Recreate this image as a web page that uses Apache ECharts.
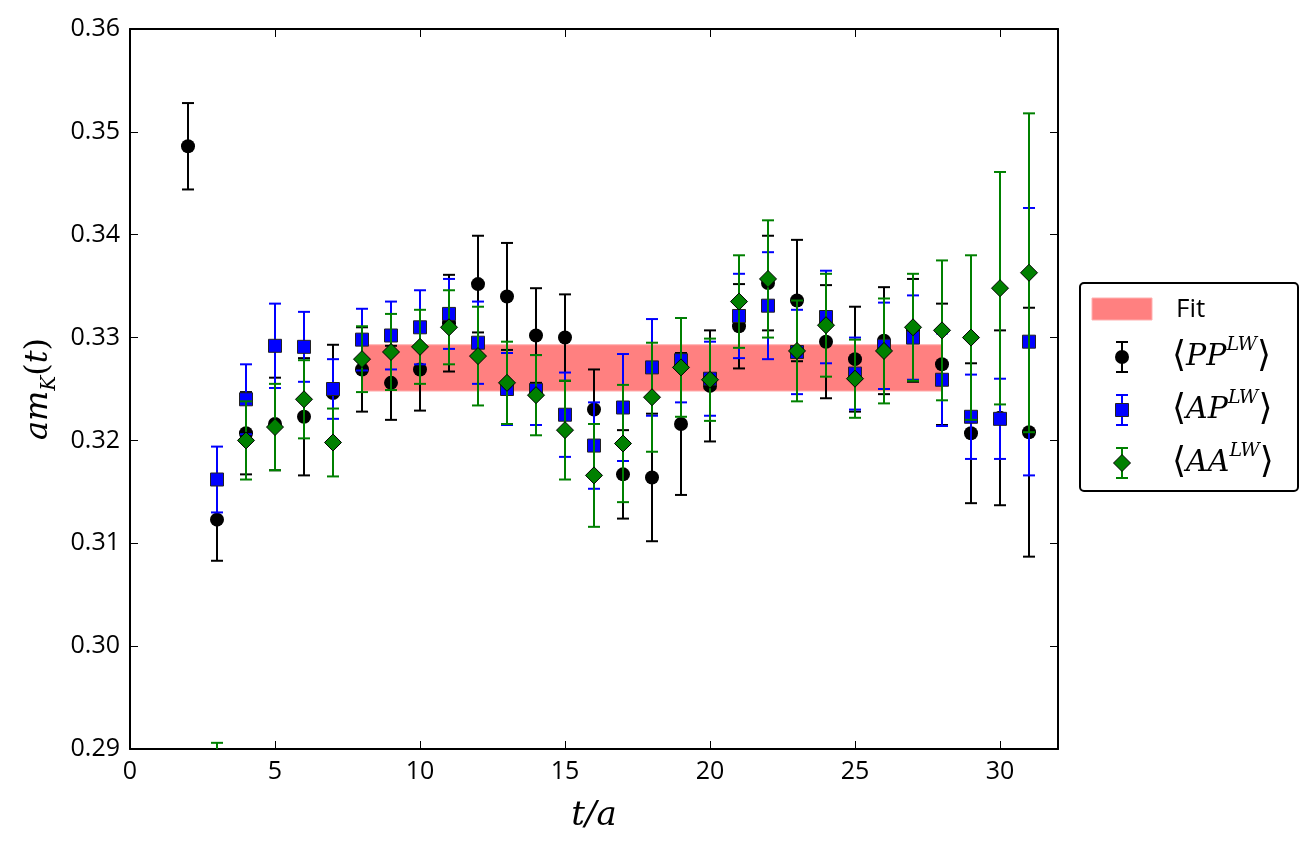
<!DOCTYPE html>
<html lang="en">
<head>
    <meta charset="UTF-8">
    <title>am_K(t)</title>
    <script src="https://cdn.jsdelivr.net/npm/echarts@6/dist/echarts.min.js"></script>
    <style>
        html, body { margin: 0; padding: 0; background: #fff; }
        #chart { width: 1312px; height: 851px; }
    </style>
</head>
<body>
<div id="chart"></div>
<script>
    // time slices
    var ppT = [2,3,4,5,6,7,8,9,10,11,12,13,14,15,16,17,18,19,20,21,22,23,24,25,26,27,28,29,30,31];
    var apT = [3,4,5,6,7,8,9,10,11,12,13,14,15,16,17,18,19,20,21,22,23,24,25,26,27,28,29,30,31];
    var aaT = apT;

    // <PP^LW>
    var ppVal = [0.3486,0.3123,0.3207,0.3216,0.3223,0.3246,0.3269,0.3256,0.3269,0.3314,0.3352,0.3340,0.3302,0.3300,0.3230,
                 0.3167,0.3164,0.3216,0.3253,0.3311,0.3353,0.3336,0.3296,0.3279,0.3297,0.3307,0.3274,0.3207,0.3222,0.3208];
    var ppErr = [0.0042,0.0040,0.0040,0.0045,0.0057,0.0047,0.0041,0.0036,0.0040,0.0047,0.0047,0.0052,0.0046,0.0042,0.0039,
                 0.0043,0.0062,0.0069,0.0054,0.0041,0.0046,0.0059,0.0055,0.0051,0.0052,0.0050,0.0059,0.0068,0.0085,0.0121];

    // <AP^LW>
    var apVal = [0.3162,0.3240,0.3292,0.3291,0.3250,0.3298,0.3302,0.3310,0.3323,0.3295,0.3250,0.3249,0.3225,0.3195,0.3232,
                 0.3271,0.3278,0.3260,0.3321,0.3331,0.3286,0.3320,0.3265,0.3292,0.3300,0.3259,0.3223,0.3221,0.3296];
    var apErr = [0.0032,0.0034,0.0041,0.0034,0.0029,0.0030,0.0033,0.0036,0.0034,0.0040,0.0035,0.0034,0.0041,0.0042,0.0052,
                 0.0047,0.0041,0.0036,0.0041,0.0052,0.0041,0.0045,0.0035,0.0042,0.0041,0.0045,0.0041,0.0039,0.0130];

    // <AA^LW>
    var aaVal = [0.2850,0.3200,0.3213,0.3240,0.3198,0.3279,0.3286,0.3291,0.3310,0.3282,0.3256,0.3244,0.3210,0.3166,0.3197,
                 0.3242,0.3271,0.3259,0.3335,0.3357,0.3287,0.3312,0.3260,0.3287,0.3310,0.3307,0.3300,0.3348,0.3363];
    var aaErr = [0.0056,0.0038,0.0042,0.0038,0.0033,0.0032,0.0037,0.0036,0.0036,0.0048,0.0040,0.0039,0.0048,0.0050,0.0057,
                 0.0053,0.0048,0.0040,0.0045,0.0057,0.0049,0.0050,0.0038,0.0051,0.0052,0.0068,0.0080,0.0113,0.0155];

    // fit band: t range and value range
    var fitT = [8, 28];
    var fitBand = [0.3248, 0.3293];

    var xTicks = [0, 5, 10, 15, 20, 25, 30];
    var yTicks = [0.29, 0.30, 0.31, 0.32, 0.33, 0.34, 0.35, 0.36];

    var tickFont = 'Open Sans';
    var mathFont = 'DejaVu Serif';

    function zip(t, v, e) {
        var out = [];
        for (var i = 0; i < t.length; i++) {
            out.push(e ? [t[i], v[i], e[i]] : [t[i], v[i]]);
        }
        return out;
    }

    function errBars(color) {
        return function (params, api) {
            var x = api.value(0), y = api.value(1), e = api.value(2);
            var lo = api.coord([x, y - e]);
            var hi = api.coord([x, y + e]);
            var cw = 6;
            var st = { stroke: color, lineWidth: 2 };
            return {
                type: 'group',
                children: [
                    { type: 'line', shape: { x1: lo[0], y1: lo[1], x2: hi[0], y2: hi[1] }, style: st },
                    { type: 'line', shape: { x1: lo[0] - cw, y1: lo[1], x2: lo[0] + cw, y2: lo[1] }, style: st },
                    { type: 'line', shape: { x1: hi[0] - cw, y1: hi[1], x2: hi[0] + cw, y2: hi[1] }, style: st }
                ]
            };
        };
    }

    function bandRender(params, api) {
        var p0 = api.coord([api.value(0), api.value(3)]);
        var p1 = api.coord([api.value(1), api.value(2)]);
        return {
            type: 'rect',
            shape: { x: p0[0], y: p0[1], width: p1[0] - p0[0], height: p1[1] - p0[1] },
            style: { fill: '#ff8080', stroke: '#ffb0b0', lineWidth: 1 }
        };
    }

    var axisCommon = {
        type: 'value',
        axisLine: { show: true, onZero: false, lineStyle: { color: '#000', width: 2 } },
        axisTick: { show: true, inside: true, length: 8, lineStyle: { color: '#000', width: 1 } },
        splitLine: { show: false }
    };

    function xAx(pos, labels) {
        return Object.assign({}, axisCommon, {
            position: pos, min: 0, max: 32, interval: 5,
            axisLabel: {
                show: labels, margin: 10, showMaxLabel: false,
                color: '#000', fontFamily: tickFont, fontSize: 25
            }
        });
    }

    function yAx(pos, labels) {
        return Object.assign({}, axisCommon, {
            position: pos, min: yTicks[0], max: yTicks[yTicks.length - 1], interval: 0.01,
            axisLabel: {
                show: labels, margin: 10, color: '#000', fontFamily: tickFont, fontSize: 25,
                formatter: function (v) { return v.toFixed(2); }
            }
        });
    }

    var xBottom = xAx('bottom', true);
    xBottom.name = '{i|t/a}';
    xBottom.nameLocation = 'middle';
    xBottom.nameGap = 50;
    xBottom.nameTextStyle = { rich: { i: { fontFamily: mathFont, fontStyle: 'italic', fontSize: 34, color: '#000' } } };

    var yLeft = yAx('left', true);
    yLeft.name = '{i|am}{s|K}{u|(}{i|t}{u|)}';
    yLeft.nameLocation = 'middle';
    yLeft.nameGap = 64;
    yLeft.nameRotate = 90;
    yLeft.nameTextStyle = {
        rich: {
            i: { fontFamily: mathFont, fontStyle: 'italic', fontSize: 32, color: '#000', lineHeight: 42, verticalAlign: 'middle' },
            u: { fontFamily: mathFont, fontSize: 32, color: '#000', lineHeight: 42, verticalAlign: 'middle' },
            s: { fontFamily: mathFont, fontStyle: 'italic', fontSize: 20, color: '#000', lineHeight: 25, verticalAlign: 'bottom' }
        }
    };

    var chart = echarts.init(document.getElementById('chart'), null, { renderer: 'canvas' });

    // legend drawn by hand at the right of the axes
    var legX = 1080, legY = 283;
    var legRich = {
        b: { fontFamily: mathFont, fontSize: 36, color: '#000', verticalAlign: 'middle', lineHeight: 42 },
        i: { fontFamily: mathFont, fontStyle: 'italic', fontSize: 30, color: '#000', verticalAlign: 'middle', lineHeight: 42 },
        s: { fontFamily: mathFont, fontStyle: 'italic', fontSize: 19, color: '#000', verticalAlign: 'top', lineHeight: 28 }
    };
    function legErr(cx, cy, color) {
        return [
            { type: 'line', shape: { x1: cx, y1: cy - 15, x2: cx, y2: cy + 15 }, style: { stroke: color, lineWidth: 2 } },
            { type: 'line', shape: { x1: cx - 6, y1: cy - 15, x2: cx + 6, y2: cy - 15 }, style: { stroke: color, lineWidth: 2 } },
            { type: 'line', shape: { x1: cx - 6, y1: cy + 15, x2: cx + 6, y2: cy + 15 }, style: { stroke: color, lineWidth: 2 } }
        ];
    }
    var legendEls = [
        { type: 'rect', shape: { x: legX, y: legY, width: 218, height: 208, r: 4 }, style: { fill: '#fff', stroke: '#000', lineWidth: 2 } },
        { type: 'rect', shape: { x: legX + 12, y: legY + 15, width: 60, height: 22 }, style: { fill: '#ff8080', stroke: '#ffb0b0', lineWidth: 1 } },
        { type: 'text', x: legX + 96, y: legY + 27, style: { text: 'Fit', fontFamily: tickFont, fontSize: 26, fill: '#000', verticalAlign: 'middle' } }
    ];
    var entries = [
        { y: legY + 74, color: '#000', label: 'PP', mark: 'circle' },
        { y: legY + 127, color: '#0000ff', label: 'AP', mark: 'rect' },
        { y: legY + 180, color: '#008000', label: 'AA', mark: 'diamond' }
    ];
    entries.forEach(function (en) {
        var cx = legX + 42;
        legendEls = legendEls.concat(legErr(cx, en.y, en.color));
        if (en.mark === 'circle') {
            legendEls.push({ type: 'circle', shape: { cx: cx, cy: en.y, r: 7 }, style: { fill: '#000' } });
        } else if (en.mark === 'rect') {
            legendEls.push({ type: 'rect', shape: { x: cx - 6.5, y: en.y - 6.5, width: 13, height: 13 }, style: { fill: '#0000ff', stroke: '#222', lineWidth: 1 } });
        } else {
            legendEls.push({ type: 'polygon', shape: { points: [[cx, en.y - 8.5], [cx + 8.5, en.y], [cx, en.y + 8.5], [cx - 8.5, en.y]] }, style: { fill: '#008000', stroke: '#000', lineWidth: 1 } });
        }
        legendEls.push({
            type: 'text', x: legX + 92, y: en.y,
            style: { text: '{b|⟨}{i|' + en.label + '}{s|LW}{b|⟩}', rich: legRich, verticalAlign: 'middle' }
        });
    });

    var option = {
        animation: false,
        backgroundColor: '#fff',
        grid: { left: 130, right: 254, top: 29, bottom: 102, containLabel: false },
        xAxis: [xBottom, xAx('top', false)],
        yAxis: [yLeft, yAx('right', false)],
        graphic: legendEls,
        series: [
            {
                name: 'Fit', type: 'custom', renderItem: bandRender, clip: true, z: 1,
                data: [[fitT[0], fitT[1], fitBand[0], fitBand[1]]], encode: { x: [0, 1], y: [2, 3] }, silent: true
            },
            { type: 'custom', renderItem: errBars('#000'), data: zip(ppT, ppVal, ppErr), clip: true, z: 2, encode: { x: 0, y: 1 } },
            { type: 'scatter', data: zip(ppT, ppVal), symbol: 'circle', symbolSize: 14, z: 3,
              itemStyle: { color: '#000', opacity: 1 } },
            { type: 'custom', renderItem: errBars('#0000ff'), data: zip(apT, apVal, apErr), clip: true, z: 4, encode: { x: 0, y: 1 } },
            { type: 'scatter', data: zip(apT, apVal), symbol: 'rect', symbolSize: 13, z: 5,
              itemStyle: { color: '#0000ff', borderColor: '#222', borderWidth: 1, opacity: 1 } },
            { type: 'custom', renderItem: errBars('#008000'), data: zip(aaT, aaVal, aaErr), clip: true, z: 6, encode: { x: 0, y: 1 } },
            { type: 'scatter', data: zip(aaT, aaVal), symbol: 'diamond', symbolSize: 17, z: 7, clip: true,
              itemStyle: { color: '#008000', borderColor: '#000', borderWidth: 1, opacity: 1 } }
        ]
    };
    chart.setOption(option);
</script>
</body>
</html>
